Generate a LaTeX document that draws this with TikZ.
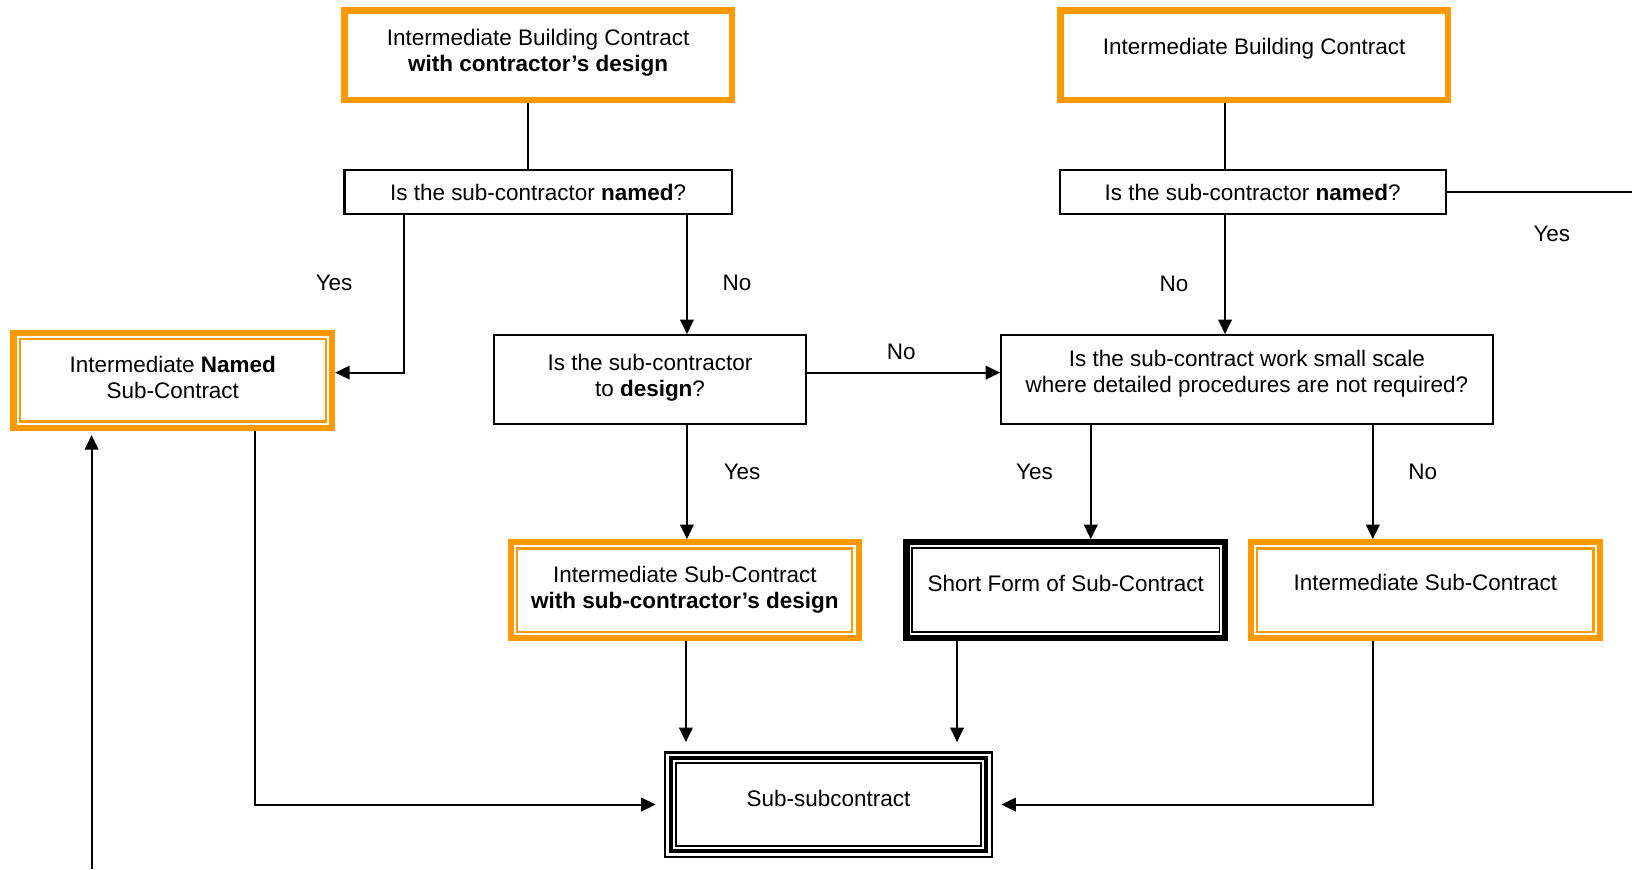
\documentclass[tikz,border=0pt]{standalone}
\usepackage{fontspec}
\setmainfont{Liberation Sans}
\usetikzlibrary{arrows.meta}
\definecolor{formorange}{RGB}{255,153,0}

\tikzset{
  question/.style={draw, line width=1pt, align=center, inner sep=0pt},
  mainform/.style={draw=formorange, line width=3pt, align=center, inner sep=0pt},
  subform/.style={draw=formorange, line width=3pt, align=center, inner sep=0pt},
  shortform/.style={draw, line width=3pt, align=center, inner sep=0pt},
  subsubform/.style={draw, line width=1pt, align=center, inner sep=0pt},
  lift/.style 2 args={text height=#1, text depth=#2},
  link/.style={line width=1pt},
  arr/.style={line width=1pt, -{Triangle[length=7pt,width=6.5pt]}},
}

\begin{document}
\begin{tikzpicture}[x=0.5pt, y=-0.5pt,
    every node/.style={font=\fontsize{10.8pt}{12.5pt}\selectfont}]
  \useasboundingbox (0,0) rectangle (1568,835);
  % forms at the top
  \node[mainform, lift={20pt}{4.26pt}, minimum width=186pt, minimum height=43pt] (ibcd) at (517,53)
    {Intermediate Building Contract\\\textbf{with contractor’s design}};
  \node[mainform, lift={8pt}{8.26pt}, minimum width=186pt, minimum height=43pt] (ibc) at (1205,53)
    {Intermediate Building Contract};
  % questions
  \node[question, minimum width=186pt, minimum height=21.5pt] (qnamedL) at (517,184.5)
    {Is the sub-contractor \textbf{named}?};
  \node[question, minimum width=185.5pt, minimum height=21.5pt] (qnamedR) at (1203.5,184.5)
    {Is the sub-contractor \textbf{named}?};
  \node[question, lift={20pt}{3.8pt}, minimum width=149.5pt, minimum height=42.5pt] (qdesign) at (624.5,364.5)
    {Is the sub-contractor\\to \textbf{design}?};
  \node[question, lift={20pt}{7.8pt}, minimum width=236pt, minimum height=42.5pt] (qsmall) at (1198,364.5)
    {Is the sub-contract work small scale\\where detailed procedures are not required?};
  % sub-contract forms
  \node[subform, lift={20pt}{2.8pt}, minimum width=153pt, minimum height=45.5pt] (named) at (166,365.5)
    {Intermediate \textbf{Named}\\Sub-Contract};
  \node[subform, minimum width=167pt, minimum height=46pt] (subdesign) at (658,567)
    {Intermediate Sub-Contract\\\textbf{with sub-contractor’s design}};
  \node[shortform, lift={8pt}{6.26pt}, minimum width=153pt, minimum height=46pt] (short) at (1024,567)
    {Short Form of Sub-Contract};
  \node[subform, lift={8pt}{7.26pt}, minimum width=167.5pt, minimum height=46pt] (subint) at (1369.5,567)
    {Intermediate Sub-Contract};
  \node[subsubform, lift={8pt}{6.26pt}, minimum width=157pt, minimum height=50pt] (subsub) at (796,773)
    {Sub-subcontract};
  % inner frames
  \foreach \n in {named,subdesign,subint}
    \draw[formorange, line width=1pt] ([shift={(9,9)}]\n.north west) rectangle ([shift={(-9,-9)}]\n.south east);
  \draw[line width=0.8pt] ([shift={(8.5,8.5)}]short.north west) rectangle ([shift={(-8.5,-8.5)}]short.south east);
  \draw[line width=2pt] ([shift={(6.5,6.5)}]subsub.north west) rectangle ([shift={(-6.5,-6.5)}]subsub.south east);
  \draw[line width=1pt] ([shift={(11.5,11.5)}]subsub.north west) rectangle ([shift={(-11.5,-11.5)}]subsub.south east);
  % answers
  \node (yesNamedL) at (321,272) {Yes};
  \node (noNamedL) at (708,272) {No};
  \node (noNamedR) at (1128,273) {No};
  \node (yesNamedR) at (1491,225) {Yes};
  \node (noDesign) at (866,338) {No};
  \node (yesDesign) at (713,453) {Yes};
  \node (yesSmall) at (994,453) {Yes};
  \node (noSmall) at (1367,453) {No};
  % free ends
  \coordinate (rightexit) at (1568,184.5);
  \coordinate (leftentry) at (88,835);
  % connectors
  \draw[link] (ibcd.south -| 507,0) -- (qnamedL.north -| 507,0);
  \draw[link] (ibc.south -| 1177,0) -- (qnamedR.north -| 1177,0);
  \draw[link] (qnamedR.east) -- (rightexit);
  \draw[arr] (qnamedL.south -| 388,0) |- (named.east |- 0,358);
  \draw[arr] (qnamedL.south -| 660,0) -- (qdesign.north -| 660,0);
  \draw[arr] (qnamedR.south -| 1177,0) -- (qsmall.north -| 1177,0);
  \draw[arr] (qdesign.east |- 0,358) -- (qsmall.west |- 0,358);
  \draw[arr] (qdesign.south -| 660,0) -- (subdesign.north -| 660,0);
  \draw[arr] (qsmall.south -| 1048,0) -- (short.north -| 1048,0);
  \draw[arr] (qsmall.south -| 1319,0) -- (subint.north -| 1319,0);
  \draw[arr, shorten >=4.5pt] (subdesign.south -| 659,0) -- (subsub.north -| 659,0);
  \draw[arr, shorten >=4.5pt] (short.south -| 919.5,0) -- (subsub.north -| 919.5,0);
  \draw[arr, shorten >=4pt] (named.south -| 245,0) |- (subsub.west);
  \draw[arr, shorten >=4pt] (subint.south -| 1319,0) |- (subsub.east);
  \draw[arr, shorten >=2pt] (leftentry) -- (named.south -| 88,0);
\end{tikzpicture}
\end{document}
